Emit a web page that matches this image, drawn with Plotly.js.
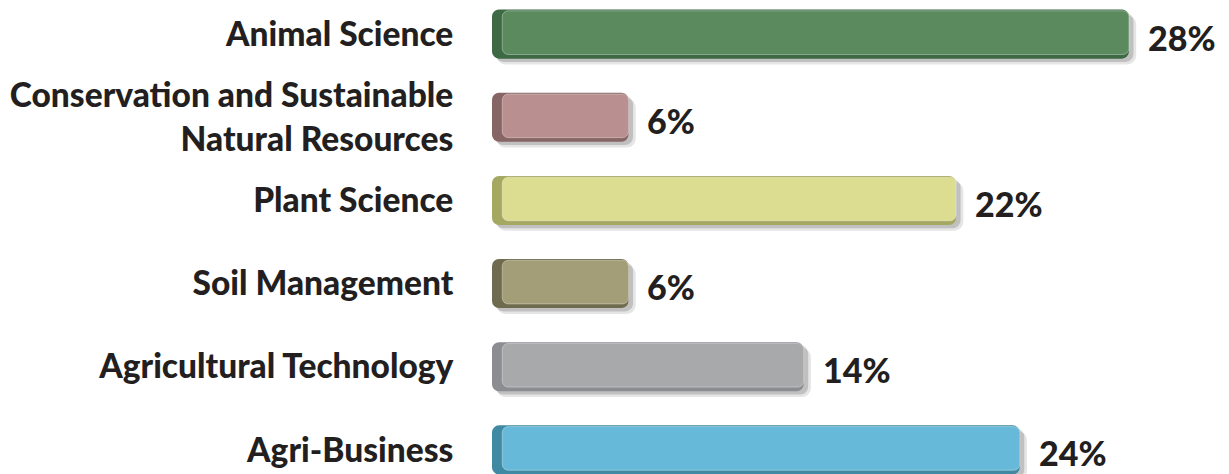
<!DOCTYPE html>
<html>
<head>
<meta charset="utf-8">
<script src="https://cdn.plot.ly/plotly-3.0.1.min.js"></script>
<style>html,body{margin:0;padding:0;background:#fff;}#chart{width:1229px;height:474px;}</style>
</head>
<body>
<div id="chart"></div>
<script>
const categories = ["Animal Science", "Conservation and Sustainable<br>Natural Resources", "Plant Science", "Soil Management", "Agricultural Technology", "Agri-Business"];
const percentLabels = ["28%", "6%", "22%", "6%", "14%", "24%"];
const barLengths = [28.0, 6.0, 20.4, 6.0, 13.7, 23.2];
const faceColors = ["#5a8a5e", "#b98f8f", "#dcdd91", "#a39e78", "#a8a9ab", "#66b9d8"];
const sideColors = ["#3d6a45", "#876565", "#a5a861", "#6f6b4e", "#8b8d91", "#3f89a3"];

const FONT = "Lato, 'Open Sans', sans-serif";
const W = 0.59;

const shadow1 = {
  type: "bar", orientation: "h", y: categories,
  x: barLengths.map(v => v + 0.12), base: 0.2,
  offset: -W / 2 + 0.07, width: W,
  marker: {color: "rgba(0,0,0,0.10)", cornerradius: 9},
  hoverinfo: "skip", showlegend: false
};
const shadow2 = {
  type: "bar", orientation: "h", y: categories,
  x: barLengths.map(v => v + 0.05), base: 0.15,
  offset: -W / 2 + 0.04, width: W,
  marker: {color: "rgba(0,0,0,0.16)", cornerradius: 8},
  hoverinfo: "skip", showlegend: false
};
const side = {
  type: "bar", orientation: "h", y: categories,
  x: barLengths, base: 0,
  offset: -W / 2, width: W,
  marker: {color: sideColors, cornerradius: 7},
  hoverinfo: "skip", showlegend: false
};
const face = {
  type: "bar", orientation: "h", y: categories,
  x: barLengths.map(v => v - 0.45), base: 0.45,
  offset: -W / 2 + 0.015, width: W - 0.065,
  marker: {color: faceColors, cornerradius: 6, line: {color: "rgba(255,255,255,0.35)", width: 1}},
  hoverinfo: "skip", showlegend: false
};

const annotations = categories.map((c, i) => ({
  x: barLengths[i], y: c, xref: "x", yref: "y",
  text: percentLabels[i], showarrow: false,
  xanchor: "left", yanchor: "middle", xshift: 17, yshift: -3,
  font: {family: FONT, size: 34, color: "#231f20", weight: 900}
}));

const layout = {
  width: 1229, height: 474,
  margin: {l: 492, r: 0, t: 0, b: 0},
  paper_bgcolor: "#ffffff", plot_bgcolor: "#ffffff",
  barmode: "overlay",
  xaxis: {visible: false, range: [0, 32.4], fixedrange: true},
  yaxis: {
    type: "category", range: [5.29, -0.41], autorange: false,
    showgrid: false, zeroline: false, showline: false,
    ticks: "outside", ticklen: 31, tickcolor: "rgba(0,0,0,0)",
    automargin: false,
    tickfont: {family: FONT, size: 33.5, color: "#231f20", weight: 900}
  },
  annotations: annotations,
  showlegend: false
};

Plotly.newPlot("chart", [shadow1, shadow2, side, face], layout, {displayModeBar: false, staticPlot: true});
</script>
</body>
</html>
